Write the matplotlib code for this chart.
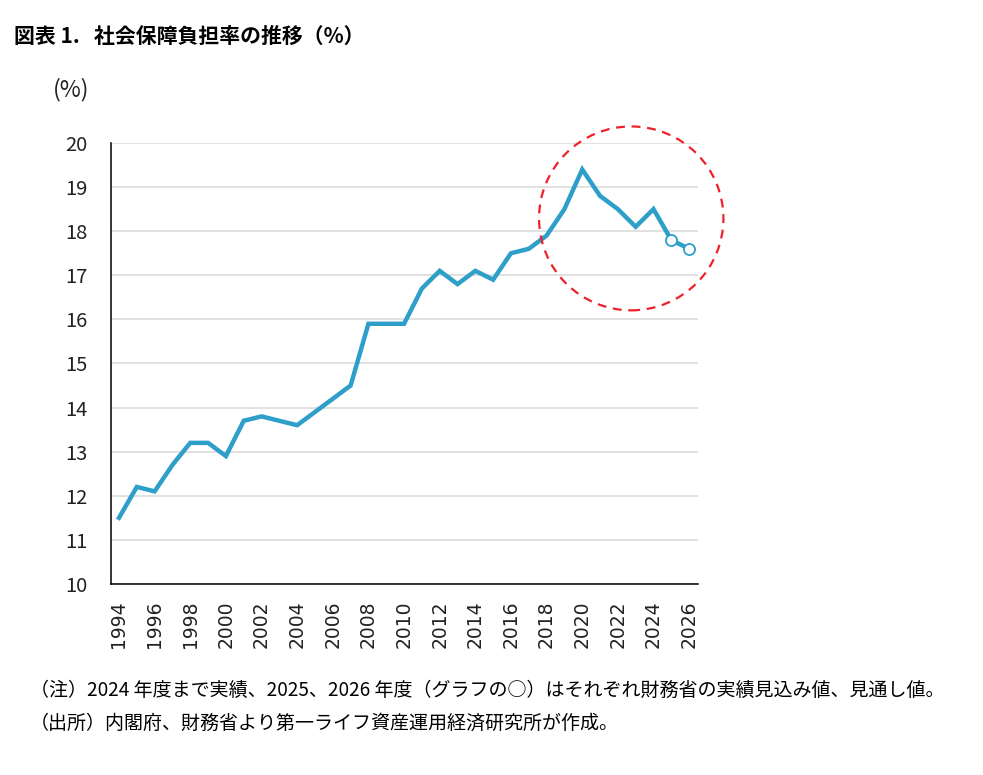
import matplotlib.pyplot as plt
from matplotlib.patches import Ellipse

plt.rcParams["font.family"] = "DejaVu Sans"
jp_font = ["Noto Sans CJK JP", "DejaVu Sans"]

years = list(range(1994, 2027))
burden = [11.5, 12.2, 12.1, 12.7, 13.2, 13.2, 12.9, 13.7, 13.8, 13.7,
          13.6, 13.9, 14.2, 14.5, 15.9, 15.9, 15.9, 16.7, 17.1, 16.8,
          17.1, 16.9, 17.5, 17.6, 17.9, 18.5, 19.4, 18.8, 18.5, 18.1,
          18.5, 17.8, 17.6]
estimate_years = [2025, 2026]
estimate_vals = [17.8, 17.6]
x_ticks = list(range(1994, 2027, 2))
y_ticks = list(range(10, 21))

title = "図表 1.   社会保障負担率の推移（%）"
note1 = "（注）2024 年度まで実績、2025、2026 年度（グラフの○）はそれぞれ財務省の実績見込み値、見通し値。"
note2 = "（出所）内閣府、財務省より第一ライフ資産運用経済研究所が作成。"

line_color = "#2e9fc9"

fig = plt.figure(figsize=(9.83, 7.75), dpi=100)
ax = fig.add_axes([0.1129, 0.2465, 0.5972, 0.569])

ax.plot(years, burden, color=line_color, lw=3.2, solid_joinstyle="miter", zorder=3)
ax.plot(estimate_years, estimate_vals, linestyle="none", marker="o", ms=8,
        mfc="white", mec=line_color, mew=1.3, zorder=4)

# red dashed circle around recent years
circ = Ellipse((2022.75, 18.29), 10.35, 4.17, fill=False, ec="#f0202a",
               lw=1.6, ls=(0, (4, 3)), zorder=5, clip_on=False)
ax.add_patch(circ)

ax.set_xlim(1993.55, 2026.5)
ax.set_ylim(10, 20)
ax.set_yticks(y_ticks)
ax.set_xticks(x_ticks)
ax.tick_params(axis="y", length=0, pad=17, labelsize=14.5, labelcolor="#222222",
               labelfontfamily="Noto Sans CJK JP")
ax.tick_params(axis="x", length=0, pad=12, labelsize=13.5, labelcolor="#222222",
               labelrotation=90)
ax.yaxis.grid(True, color="#d9d9d9", lw=1.1, zorder=0)
ax.set_axisbelow(True)
for side in ["top", "right"]:
    ax.spines[side].set_visible(False)
for side in ["left", "bottom"]:
    ax.spines[side].set_color("black")
    ax.spines[side].set_linewidth(1.1)

fig.text(71 / 983, 1 - 90 / 775, "(%)", ha="center", va="center",
         fontsize=16.5, color="#222222", family=jp_font)
fig.text(14 / 983, 1 - 36 / 775, title, ha="left", va="center",
         fontsize=15, fontweight="bold", color="black", family=jp_font)
fig.text(30 / 983, 1 - 690 / 775, note1, ha="left", va="center",
         fontsize=13.7, color="black", family=jp_font)
fig.text(30 / 983, 1 - 723 / 775, note2, ha="left", va="center",
         fontsize=13.7, color="black", family=jp_font)

fig.savefig("out.png", dpi=100)
